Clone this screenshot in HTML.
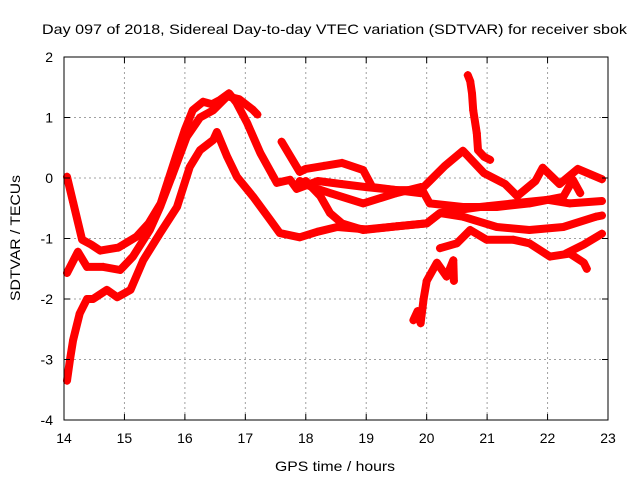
<!DOCTYPE html>
<html><head><meta charset="utf-8">
<style>
html,body{margin:0;padding:0;background:#fff;}
svg{display:block;font-family:"Liberation Sans",Arial,sans-serif;}
</style></head>
<body>
<svg id="chart" width="640" height="480" viewBox="0 0 640 480">
<rect width="640" height="480" fill="#fff"/>
<text x="42" y="34" font-size="14" textLength="585" lengthAdjust="spacingAndGlyphs" fill="#000">Day 097 of 2018, Sidereal Day-to-day VTEC variation (SDTVAR) for receiver sbok</text>
<text x="275" y="471" font-size="14" textLength="120" lengthAdjust="spacingAndGlyphs" fill="#000">GPS time / hours</text>
<text x="0" y="0" font-size="14" textLength="126" lengthAdjust="spacingAndGlyphs" fill="#000" transform="translate(20,301) rotate(-90)">SDTVAR / TECUs</text>
<g id="grid"></g>
<g id="series"></g>
<g id="axes"></g>
</svg>
<script>
const xTicks=[14,15,16,17,18,19,20,21,22,23];
const yTicks=[-4,-3,-2,-1,0,1,2];
const seriesA_t=[14.05,14.15,14.3,14.45,14.6,14.9,15.2,15.4,15.6,15.87,16.0,16.13,16.3,16.45,16.58,16.73,16.85,17.03,17.25,17.52,17.74,17.85,18.2,18.6,19.0,19.5,19.9];
const seriesA_v=[0.02,-0.4,-1.02,-1.1,-1.2,-1.15,-0.97,-0.75,-0.42,0.41,0.8,1.12,1.26,1.22,1.29,1.4,1.25,0.91,0.41,-0.08,-0.03,-0.18,-0.05,-0.1,-0.15,-0.2,-0.25];
const seriesB_t=[14.05,14.23,14.38,14.65,14.93,15.14,15.42,15.59,15.8,16.03,16.25,16.47,16.7,16.9,17.12,17.2];
const seriesB_v=[-1.57,-1.22,-1.47,-1.47,-1.52,-1.3,-0.86,-0.48,0.07,0.68,1.0,1.12,1.35,1.3,1.13,1.05];
const seriesC_t=[14.05,14.1,14.15,14.26,14.38,14.48,14.71,14.88,15.1,15.31,15.59,15.87,16.08,16.25,16.47,16.53,16.7,16.86,17.13,17.41,17.57,17.9,18.19,18.52,19.0,19.5,20.0,20.22,20.5,20.88,21.43,22.0,22.37,22.9];
const seriesC_v=[-3.35,-3.0,-2.68,-2.24,-2.0,-2.0,-1.85,-1.97,-1.85,-1.36,-0.91,-0.48,0.18,0.46,0.63,0.76,0.35,0.02,-0.31,-0.69,-0.91,-0.98,-0.89,-0.81,-0.85,-0.8,-0.75,-0.58,-0.53,-0.48,-0.42,-0.36,-0.42,-0.38];
const seriesD_t=[17.6,17.9,18.0,18.3,18.6,18.95,19.1,19.5,19.9,20.05,20.3,20.6,20.95,21.3,21.5,21.8,21.92,22.2,22.5,22.9];
const seriesD_v=[0.6,0.1,0.15,0.2,0.25,0.13,-0.15,-0.2,-0.2,-0.05,0.2,0.45,0.08,-0.1,-0.3,-0.05,0.17,-0.1,0.15,-0.02];
const seriesE_t=[17.9,18.1,18.4,18.95,19.5,19.9,20.05,20.6,21.16,21.7,22.26,22.42,22.54];
const seriesE_v=[-0.05,-0.15,-0.25,-0.42,-0.25,-0.15,-0.42,-0.48,-0.48,-0.42,-0.31,-0.03,-0.25];
const seriesF_t=[18.0,18.24,18.4,18.6,18.95,19.5,20.0,20.22,20.6,21.16,21.7,22.26,22.8,22.9];
const seriesF_v=[-0.05,-0.3,-0.58,-0.75,-0.86,-0.8,-0.75,-0.58,-0.64,-0.81,-0.86,-0.81,-0.64,-0.62];
const seriesG_t=[20.22,20.5,20.72,20.99,21.43,21.7,22.04,22.37,22.6,22.65];
const seriesG_v=[-1.16,-1.08,-0.86,-1.02,-1.02,-1.08,-1.3,-1.25,-1.4,-1.5];
const seriesH_t=[22.3,22.6,22.9];
const seriesH_v=[-1.25,-1.1,-0.92];
const seriesI_t=[19.78,19.85,19.9,19.95,20.0,20.17,20.33,20.44,20.45];
const seriesI_v=[-2.35,-2.2,-2.4,-2.0,-1.7,-1.4,-1.63,-1.36,-1.7];
const seriesJ_t=[20.68,20.72,20.75,20.77,20.83,20.85,20.95,21.05];
const seriesJ_v=[1.7,1.6,1.4,1.12,0.74,0.46,0.35,0.3];
const allSeries=[[seriesA_t,seriesA_v],[seriesB_t,seriesB_v],[seriesC_t,seriesC_v],[seriesD_t,seriesD_v],[seriesE_t,seriesE_v],[seriesF_t,seriesF_v],[seriesG_t,seriesG_v],[seriesH_t,seriesH_v],[seriesI_t,seriesI_v],[seriesJ_t,seriesJ_v]];

const L=64,R=608,T=57,B=420;
const xS=t=>L+(t-14)/9*(R-L);
const yS=v=>T+(2-v)/6*(B-T);
const NS="http://www.w3.org/2000/svg";
function mk(tag,attrs,parent){const e=document.createElementNS(NS,tag);for(const k in attrs)e.setAttribute(k,attrs[k]);parent.appendChild(e);return e;}
const grid=document.getElementById('grid'),axes=document.getElementById('axes'),ser=document.getElementById('series');
xTicks.forEach(t=>{
  const x=xS(t);
  if(t>14&&t<23){const g=mk('line',{x1:x,y1:T,x2:x,y2:B,stroke:'#a0a0a0','stroke-dasharray':'2,3','stroke-width':1},grid);
  
  }
  mk('line',{x1:x,y1:B,x2:x,y2:B-6,stroke:'#000'},axes);
  mk('line',{x1:x,y1:T,x2:x,y2:T+6,stroke:'#000'},axes);
  const lb=mk('text',{x:x,y:B+23,'font-size':14,'text-anchor':'middle'},axes);
  lb.textContent=t;
  
  
});
yTicks.forEach(v=>{
  const y=yS(v);
  if(v>-4&&v<2){const g=mk('line',{x1:L,y1:y,x2:R,y2:y,stroke:'#a0a0a0','stroke-dasharray':'2,3','stroke-width':1},grid);
  
  }
  mk('line',{x1:L,y1:y,x2:L+6,y2:y,stroke:'#000'},axes);
  mk('line',{x1:R,y1:y,x2:R-6,y2:y,stroke:'#000'},axes);
  const lb=mk('text',{x:L-11,y:y+5,'font-size':14,'text-anchor':'end'},axes);
  lb.textContent=v;
  
  
});
const fr=mk('rect',{x:L,y:T,width:R-L,height:B-T,fill:'none',stroke:'#000','stroke-width':1},axes);


allSeries.forEach((s,i)=>{
  const [ts,vs]=s;
  const pts=ts.map((t,j)=>xS(t).toFixed(1)+','+yS(vs[j]).toFixed(1)).join(' ');
  const pl=mk('polyline',{points:pts,fill:'none',stroke:'#ff0000','stroke-width':8,'stroke-linejoin':'round','stroke-linecap':'round'},ser);
  
  
  ts.forEach((t,j)=>{
    const x=xS(t),y=yS(vs[j]);
    const p=mk('path',{d:`M${x-4},${y}H${x+4}M${x},${y-4}V${y+4}`,stroke:'#ff0000','stroke-width':1.3},ser);
    
    
  });
});
</script>
</body></html>
